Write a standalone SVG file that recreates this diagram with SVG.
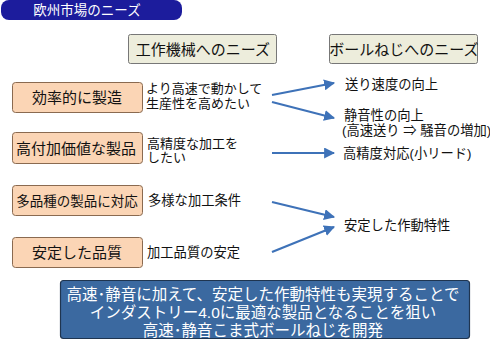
<svg xmlns="http://www.w3.org/2000/svg" width="490" height="353" viewBox="0 0 490 353">
<style>
text{font-family:"Liberation Sans","Noto Sans CJK JP",sans-serif;fill:#111}
.hdr{fill:#ededdc;stroke:#777;stroke-width:1}
.nd{fill:#fbd5b5;stroke:#8a6a50;stroke-width:1}
.t15{font-size:15px}
.t13{font-size:13.3px}
.t13b{font-size:13px}
.w{fill:#fff}
.c{stroke:#3e72b8;stroke-width:2.2;fill:none;marker-end:url(#ah)}
</style>
<defs>
<marker id="ah" viewBox="0 0 10 10" refX="9" refY="5" markerWidth="5" markerHeight="5" orient="auto" markerUnits="strokeWidth">
<path d="M0,0 L10,5 L0,10 z" fill="#3e72b8"/>
</marker>
</defs>
<rect width="490" height="353" fill="#fff"/>
<g id="title">
<rect x="1" y="0" width="181" height="20" rx="8" fill="#1c1c9c"/>
<text x="87" y="15" text-anchor="middle" font-size="13.5" class="w">欧州市場のニーズ</text>
</g>
<g id="h1">
<rect class="hdr" x="128.5" y="34.5" width="148" height="29" rx="2"/>
<text x="203" y="55" text-anchor="middle" class="t15">工作機械へのニーズ</text>
</g>
<g id="h2">
<rect class="hdr" x="329.5" y="34.5" width="148" height="29" rx="2"/>
<text x="404" y="55" text-anchor="middle" class="t15">ボールねじへのニーズ</text>
</g>
<g id="n1">
<rect class="nd" x="12.5" y="82.5" width="130" height="30" rx="3"/>
<text x="77" y="103" text-anchor="middle" class="t15">効率的に製造</text>
<text x="146" y="93" class="t13b">より高速で動かして</text>
<text x="146" y="107.5" class="t13b">生産性を高めたい</text>
</g>
<g id="n2">
<rect class="nd" x="12.5" y="132.5" width="130" height="31" rx="3"/>
<text x="76" y="154" text-anchor="middle" class="t15">高付加価値な製品</text>
<text x="147" y="147.5" class="t13b">高精度な加工を</text>
<text x="147" y="162" class="t13b">したい</text>
</g>
<g id="n3">
<rect class="nd" x="12.5" y="185.5" width="130" height="30" rx="3"/>
<text x="77" y="206" text-anchor="middle" font-size="13.5">多品種の製品に対応</text>
<text x="148" y="205" class="t13">多様な加工条件</text>
</g>
<g id="n4">
<rect class="nd" x="12.5" y="237.5" width="130" height="30" rx="3"/>
<text x="77" y="258" text-anchor="middle" class="t15">安定した品質</text>
<text x="147" y="257" class="t13">加工品質の安定</text>
</g>
<g id="r1">
<text x="345" y="89" class="t13">送り速度の向上</text>
</g>
<g id="r2">
<text x="344" y="120" class="t13">静音性の向上</text>
<text x="342" y="135" class="t13">(高速送り ⇒ 騒音の増加)</text>
</g>
<g id="r3">
<text x="343" y="158" class="t13">高精度対応(小リード)</text>
</g>
<g id="r4">
<text x="344" y="230" class="t13">安定した作動特性</text>
</g>
<g id="connectors">
<line class="c" x1="272" y1="95" x2="334" y2="83"/>
<line class="c" x1="272" y1="102" x2="334" y2="118"/>
<line class="c" x1="272" y1="153" x2="334" y2="153"/>
<line class="c" x1="272" y1="202" x2="334" y2="217"/>
<line class="c" x1="272" y1="252" x2="334" y2="227"/>
</g>
<g id="summary">
<rect x="60.5" y="280.5" width="409" height="58" rx="3" fill="#3b69a0" stroke="#1f3550" stroke-width="1.2"/>
<text x="263" y="300" text-anchor="middle" font-size="15.5" class="w">高速･静音に加えて、安定した作動特性も実現することで</text>
<text x="263" y="318" text-anchor="middle" font-size="15.5" class="w">インダストリー4.0に最適な製品となることを狙い</text>
<text x="263" y="336" text-anchor="middle" font-size="15.5" class="w">高速･静音こま式ボールねじを開発</text>
</g>
</svg>
